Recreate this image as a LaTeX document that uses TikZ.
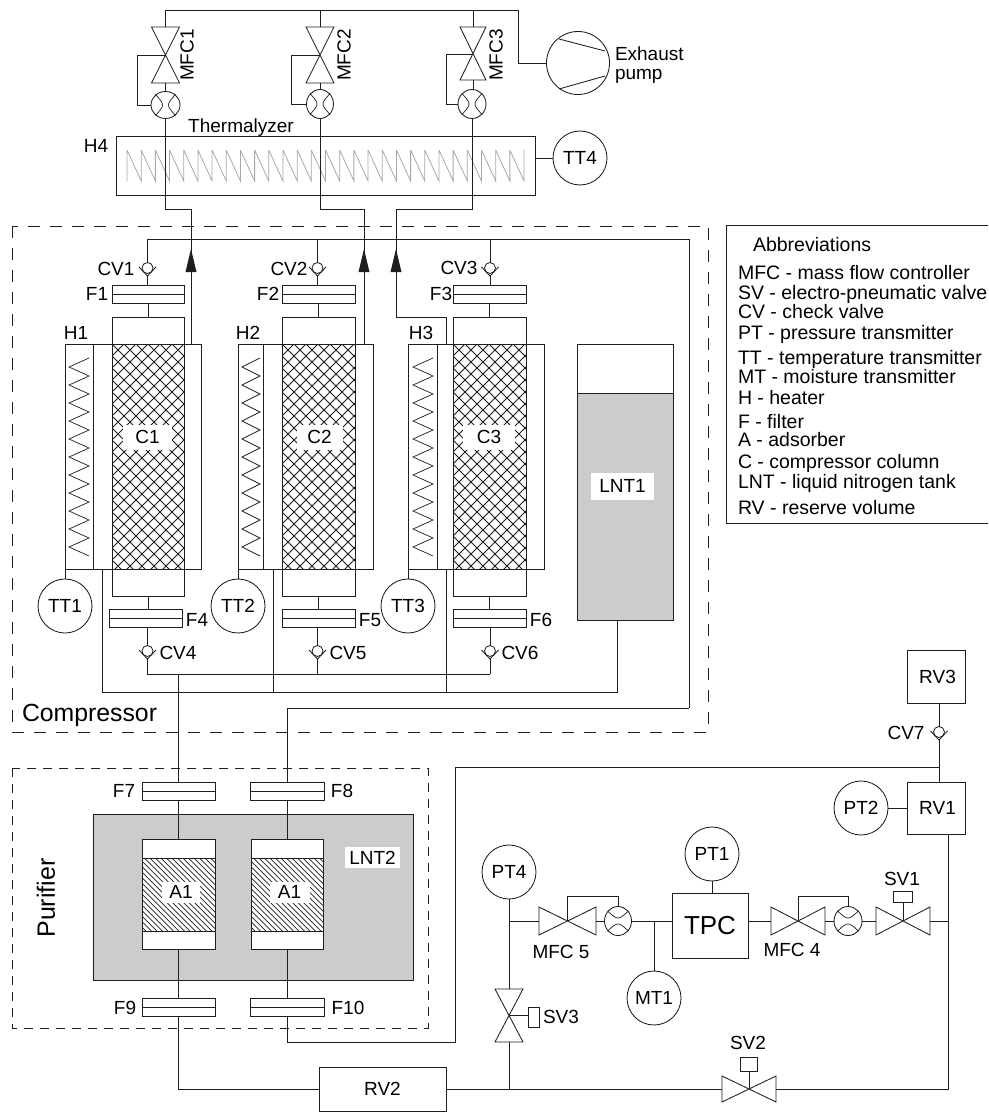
\documentclass[tikz,border=0pt]{standalone}
\usepackage{fontspec}
\setmainfont{Liberation Sans}
\usetikzlibrary{shapes.geometric,calc}
\definecolor{ink}{HTML}{1E1E1E}
\definecolor{tank}{HTML}{CCCCCC}
\definecolor{coilgrey}{HTML}{A8A8A8}
\newcommand{\fsz}[1]{\fontsize{#1}{#1}\selectfont}
\tikzset{
  pipe/.style={draw=ink,line width=0.85pt,line join=miter},
  box/.style={draw=ink,line width=0.85pt,rectangle,inner sep=0pt,outer sep=0pt},
  lab/.style={inner sep=0pt,outer sep=0pt,font=\fsz{19}},
  whitelab/.style={fill=white,inner sep=0pt,outer sep=0pt,font=\fsz{19}},
  inst/.style={draw=ink,line width=0.85pt,circle,minimum size=54pt,inner sep=0pt,outer sep=0pt,fill=white,font=\fsz{19}},
  flowbody/.style={draw=ink,line width=0.85pt,ellipse,inner sep=0pt,outer sep=0pt,fill=white},
  dashbox/.style={draw=ink,line width=0.85pt,dash pattern=on 12pt off 10pt},
  dashboxb/.style={draw=ink,line width=0.85pt,dash pattern=on 9pt off 7pt},
  abbr/.style={anchor=base west,inner sep=0pt,outer sep=0pt,font=\fsz{19.5}},
  coil/.style={draw=ink,line width=0.7pt},
  hatchline/.style={draw=ink,line width=0.9pt},
}
\newcommand{\rectn}[7][]{\node[box,minimum width={((#4)-(#2))*1pt},minimum height={((#5)-(#3))*1pt},#1] (#6) at ({((#2)+(#4))/2},{((#3)+(#5))/2}) {#7};}
\newcommand{\filtr}[4]{\rectn[fill=white]{#2}{#4-9}{#3}{#4+9}{#1}{}\draw[pipe] (#1.west) -- (#1.east);}
\newcommand{\vval}[5]{\coordinate (#1) at (#2,{(#3+#4)/2});\coordinate (#1-t) at (#2,#3);\coordinate (#1-b) at (#2,#4);
  \draw[pipe] (#2-#5,#3) -- (#2+#5,#3) -- (#2-#5,#4) -- (#2+#5,#4) -- cycle;}
\newcommand{\hval}[5]{\coordinate (#1) at ({(#2+#3)/2},#4);\coordinate (#1-l) at (#2,#4);\coordinate (#1-r) at (#3,#4);
  \draw[pipe] (#2,#4-#5) -- (#2,#4+#5) -- (#3,#4-#5) -- (#3,#4+#5) -- cycle;}
\newcommand{\chk}[3]{\node[draw=ink,line width=0.8pt,circle,minimum size=11pt,inner sep=0pt,outer sep=0pt,fill=white] (#1) at (#2,#3-1) {};
  \coordinate (#1-b) at (#2,#3+7);
  \draw[pipe] (#2-8.5,#3-2) -- (#1-b) -- (#2+8.5,#3-2);}
\newcommand{\flowm}[6]{\node[flowbody,minimum width={2*#4*1pt},minimum height={2*#5*1pt}] (#1) at (#2,#3) {};
  \begin{scope}[shift={(#2,#3)},rotate=#6]
    \draw[pipe,line width=0.7pt] (-10,-10.5) .. controls (-0.6,0) .. (-10,10.5);
    \draw[pipe,line width=0.7pt] (10,-10.5) .. controls (0.6,0) .. (10,10.5);
  \end{scope}}
\newcommand{\hatchcross}[4]{\begin{scope}
    \clip (#1,#2) rectangle (#3,#4);
    \foreach \kk in {-240,-228,...,84}{\draw[hatchline] (#1+\kk,#2) -- ++(240,240);}
    \foreach \kk in {0,12,...,324}{\draw[hatchline] (#1+\kk,#2) -- ++(-240,240);}
  \end{scope}}
\newcommand{\hatchdiag}[4]{\begin{scope}
    \clip (#1,#2) rectangle (#3,#4);
    \foreach \kk in {-80,-74.5,...,80}{\draw[hatchline,line width=0.7pt] (#1+\kk,#2) -- ++(90,90);}
  \end{scope}}
\newcommand{\heatz}[2]{\draw[coil] (#2,358) \foreach \ii in {0,...,10}{ -- (#1,358+9+18*\ii) -- (#2,358+18+18*\ii)};}
\newcommand{\uphead}[1]{\fill[ink] (#1,249) -- (#1+5.5,272) -- (#1-5.5,272) -- cycle;}
\begin{document}
\begin{tikzpicture}[x=1pt,y=-1pt]
\useasboundingbox (0,0) rectangle (988,1113);
\fill[white] (0,0) rectangle (988,1113);

% ---- dashed enclosures
\draw[dashbox] (12,226) rectangle (708,732);
\draw[dashboxb] (12,768) rectangle (428,1028);

% ---- Thermalyzer
\draw[draw=coilgrey,line width=0.8pt] (127,150) -- (127,181)
  \foreach \ii in {0,...,27}{ (127+14.18*\ii,150) -- (127+14.18+14.18*\ii,181) -- (127+14.18+14.18*\ii,150)};
\rectn{116}{136}{535}{195}{TH}{}
\node[lab] (thlab) at (241,128) {Thermalyzer};
\node[lab] (h4lab) at (96,146) {H4};
\node[inst] (TT4) at (580,158) {TT4};
\draw[pipe] (TH.east |- TT4.west) -- (TT4.west);

% ---- Exhaust pump
\node[flowbody,minimum width=63pt,minimum height=63pt] (pump) at (578,63) {};
\draw[pipe] (559,39) -- (605,51);
\draw[pipe] (559,89) -- (605,76);
\node[lab,anchor=west] (exh1) at (615,54) {Exhaust};
\node[lab,anchor=west] (exh2) at (615,76) {pump};

% ---- MFC 1-3
\vval{V1}{165.5}{27}{83}{14}
\vval{V2}{320}{27}{83}{14}
\vval{V3}{473}{27}{80}{13}
\flowm{FM1}{165.5}{105}{14.5}{13.5}{0}
\flowm{FM2}{320}{104}{13.5}{14.5}{0}
\flowm{FM3}{472}{104}{14}{14.5}{0}
\node[lab,rotate=90] (mfc1lab) at (187,55) {MFC1};
\node[lab,rotate=90] (mfc2lab) at (344,55) {MFC2};
\node[lab,rotate=90] (mfc3lab) at (496,55) {MFC3};
\coordinate (busT) at (518,10);
\draw[pipe] (V1-t) |- (busT) -- (busT |- pump.west) -- (pump.west);
\draw[pipe] (V2-t) -- (V2-t |- busT);
\draw[pipe] (V3-t) -- (V3-t |- busT);
\foreach \n in {1,2,3}{\draw[pipe] (V\n-b) -- (V\n-b |- FM\n.north);}
\coordinate (by1) at (137,55);
\coordinate (by2) at (291.5,55);
\coordinate (by3) at (446,54);
\draw[pipe] (V1) -- (by1) |- (FM1.west);
\draw[pipe] (V2) -- (by2) |- (FM2.west);
\draw[pipe] (V3 |- by3) -- (by3) |- (FM3.west);

% ---- Compressor jackets
\foreach \xa/\xb/\nm in {65/201/J1,238/373/J2,408/544/J3}{
  \rectn{\xa}{344}{\xb}{569}{\nm}{}
}
\draw[pipe] (93,344) -- (93,569) (263,344) -- (263,569) (437,344) -- (437,569);
\heatz{69}{89}
\heatz{242}{260}
\heatz{413}{433}
\node[lab] (h1lab) at (76,333) {H1};
\node[lab] (h2lab) at (248,333) {H2};
\node[lab] (h3lab) at (421,333) {H3};

% ---- Columns
\hatchcross{112}{344}{184}{569}
\hatchcross{282}{344}{355}{569}
\hatchcross{453}{344}{526}{569}
\rectn{112}{344}{184}{569}{C1p}{}
\rectn{282}{344}{355}{569}{C2p}{}
\rectn{453}{344}{526}{569}{C3p}{}
\rectn{112}{317}{184}{344}{C1t}{}
\rectn{282}{317}{355}{344}{C2t}{}
\rectn{453}{317}{526}{344}{C3t}{}
\rectn{112}{569}{184}{596}{C1b}{}
\rectn{282}{569}{355}{596}{C2b}{}
\rectn{453}{569}{526}{596}{C3b}{}
\node[whitelab,minimum width=49pt,minimum height=25pt] (C1) at (147.5,437) {C1};
\node[whitelab,minimum width=46pt,minimum height=25pt] (C2) at (319.5,437) {C2};
\node[whitelab,minimum width=52pt,minimum height=25pt] (C3) at (489,437) {C3};

% ---- Filters
\filtr{F1}{112}{184}{294}
\filtr{F2}{282}{355}{294}
\filtr{F3}{453}{526}{294}
\filtr{F4}{109}{182}{618.5}
\filtr{F5}{282}{355}{618.5}
\filtr{F6}{453}{526}{618.5}
\node[lab] (f1lab) at (97,294) {F1};
\node[lab] (f2lab) at (268,294) {F2};
\node[lab] (f3lab) at (441,294) {F3};
\node[lab] (f4lab) at (197,620) {F4};
\node[lab] (f5lab) at (370,620) {F5};
\node[lab] (f6lab) at (541,620) {F6};

% ---- Check valves
\chk{CV1}{147.5}{269}
\chk{CV2}{317.5}{269}
\chk{CV3}{490}{269}
\chk{CV4}{147.5}{652}
\chk{CV5}{317.5}{652}
\chk{CV6}{490}{652}
\node[lab] (cv1lab) at (116,269) {CV1};
\node[lab] (cv2lab) at (289,269) {CV2};
\node[lab] (cv3lab) at (459,268) {CV3};
\node[lab] (cv4lab) at (178,653) {CV4};
\node[lab] (cv5lab) at (348,653) {CV5};
\node[lab] (cv6lab) at (520,653) {CV6};
\foreach \a in {1,2,3}{
  \draw[pipe] (CV\a-b) -- (CV\a-b |- F\a.north);
  \draw[pipe] (C\a t.north |- F\a.south) -- (C\a t.north);
}
\foreach \a/\c in {4/C1b,5/C2b,6/C3b}{
  \draw[pipe] (\c.south) -- (\c.south |- F\a.north);
  \draw[pipe] (CV\a.north |- F\a.south) -- (CV\a.north);
}

% ---- TT1-3
\node[inst] (TT1) at (65,606) {TT1};
\node[inst] (TT2) at (238,606) {TT2};
\node[inst] (TT3) at (408,606) {TT3};
\draw[pipe] (J1.south west) -- (TT1.north);
\draw[pipe] (J2.south west) -- (TT2.north);
\draw[pipe] (J3.south west) -- (TT3.north);

% ---- LNT1
\rectn{577}{344}{673}{393}{LNTa}{}
\rectn[fill=tank]{577}{393}{673}{620}{LNT1b}{}
\node[whitelab,minimum width=63pt,minimum height=27pt] (LNT1) at (622.5,486) {LNT1};

% ---- Pipes thermalyzer to compressor
\coordinate (pj1) at (191,209);
\coordinate (pj2) at (364,209);
\coordinate (pj3) at (396,209);
\coordinate (pj3b) at (396,317);
\coordinate (pj3c) at (446,317);
\draw[pipe] (FM1.south) |- (pj1) -- (pj1 |- J1.north);
\draw[pipe] (FM2.south) |- (pj2) -- (pj2 |- J2.north);
\draw[pipe] (FM3.south) |- (pj3) -- (pj3b) -- (pj3c) -- (pj3c |- J3.north);
\uphead{191}
\uphead{364}
\uphead{396}

% ---- Compressor loops
\coordinate (loopA) at (689,708);
\coordinate (loopB) at (689,239);
\coordinate (busA) at (490,674);
\coordinate (busX) at (179.5,674);
\coordinate (og1) at (102,692);
\coordinate (og2) at (273,692);
\coordinate (og3) at (446,692);
\coordinate (lq) at (617,620);
\draw[pipe] (CV1.north |- loopB) -- (loopB) -- (loopA);
\draw[pipe] (CV1.north) -- (CV1.north |- loopB);
\draw[pipe] (CV2.north) -- (CV2.north |- loopB);
\draw[pipe] (CV3.north) -- (CV3.north |- loopB);
\draw[pipe] (CV4-b) |- (busA);
\draw[pipe] (CV5-b) -- (CV5-b |- busA);
\draw[pipe] (CV6-b) -- (CV6-b |- busA);
\draw[pipe] (lq) |- (og1) -- (og1 |- J1.south);
\draw[pipe] (og2) -- (og2 |- J2.south);
\draw[pipe] (og3) -- (og3 |- J3.south);
\node[lab,anchor=west,font=\fsz{24.8}] (complab) at (22,715) {Compressor};

% ---- Purifier
\rectn[fill=tank]{93}{814}{413}{980}{LNTbig}{}
\node[whitelab,minimum width=55pt,minimum height=21pt] (LNT2) at (372.5,857.5) {LNT2};
\rectn[fill=white]{142}{839}{215}{858}{A1t}{}
\rectn[fill=white]{251}{839}{323}{858}{A2t}{}
\rectn[fill=white]{142}{931}{215}{949}{A1b}{}
\rectn[fill=white]{251}{931}{323}{949}{A2b}{}
\fill[white] (142,858) rectangle (215,931);
\fill[white] (251,858) rectangle (323,931);
\hatchdiag{142}{858}{215}{931}
\hatchdiag{251}{858}{323}{931}
\rectn{142}{858}{215}{931}{A1p}{}
\rectn{251}{858}{323}{931}{A2p}{}
\node[whitelab,minimum width=38pt,minimum height=21pt] (A1) at (181,892) {A1};
\node[whitelab,minimum width=40pt,minimum height=21pt] (A2) at (289.5,892) {A1};
\filtr{F7}{142}{215}{791}
\filtr{F8}{250}{324}{791}
\filtr{F9}{142}{215}{1007.5}
\filtr{F10}{250}{324}{1007.5}
\node[lab] (f7lab) at (124,791) {F7};
\node[lab] (f8lab) at (342,791) {F8};
\node[lab] (f9lab) at (125,1008) {F9};
\node[lab] (f10lab) at (348,1008) {F10};
\node[lab,rotate=90,font=\fsz{25}] (purlab) at (46,898) {Purifier};
\draw[pipe] (F7.north) -- (F7.north |- busX);
\draw[pipe] (F8.north) |- (loopA);
\draw[pipe] (F7.south) -- (F7.south |- A1t.north) (A1b.south) -- (A1b.south |- F9.north);
\draw[pipe] (F8.south) -- (F8.south |- A2t.north) (A2b.south) -- (A2b.south |- F10.north);

% ---- Right hand circuit
\rectn{907}{650}{965}{703}{RV3}{\fsz{19}\hspace{3pt}RV3}
\rectn{907}{782}{965}{834}{RV1}{\fsz{19}\hspace{3pt}RV1}
\rectn{319}{1067}{446}{1111}{RV2}{\fsz{19}RV2}
\chk{CV7}{939}{733}
\node[lab] (cv7lab) at (906,733) {CV7};
\node[inst] (PT2) at (861,808) {PT2};
\draw[pipe] (PT2.east) -- (RV1.west |- PT2.east);
\draw[pipe] (CV7.north) -- (CV7.north |- RV3.south);
\draw[pipe] (CV7-b) -- (CV7-b |- RV1.north);
\coordinate (o1) at (455,1042);
\coordinate (o2) at (455,767);
\draw[pipe] (F10.south) |- (o1) -- (o2) -- (CV7-b |- o2);
\draw[pipe] (F9.south) |- (RV2.west);

\node[inst] (PT4) at (509,872) {PT4};
\node[inst] (PT1) at (712,854) {PT1};
\node[inst] (MT1) at (654,998) {MT1};
\rectn{672}{893}{748}{958}{TPC}{\fsz{26}TPC}
\draw[pipe] (PT1.south) -- (PT1.south |- TPC.north);

\hval{V5}{539}{596}{921}{14}
\hval{V4}{771}{825}{921}{14}
\hval{SV1}{876}{930}{921}{14}
\hval{SV2}{722}{776}{1089}{13}
\vval{SV3}{509}{989}{1042}{14}
\flowm{FM5}{618}{921}{13.5}{14.5}{90}
\flowm{FM4}{848}{921}{14}{14.5}{90}
\node[lab] (mfc5lab) at (561,952) {MFC 5};
\node[lab] (mfc4lab) at (792,950) {MFC 4};
\node[lab] (sv1lab) at (902,879) {SV1};
\node[lab] (sv2lab) at (748,1043) {SV2};
\node[lab] (sv3lab) at (561,1017) {SV3};

\rectn{893}{891}{912}{902}{A-SV1}{}
\rectn{740}{1057}{757}{1071}{A-SV2}{}
\rectn{528}{1007}{539}{1027}{A-SV3}{}
\draw[pipe] (SV1) -- (SV1 |- A-SV1.south);
\draw[pipe] (SV2) -- (SV2 |- A-SV2.south);
\draw[pipe] (SV3) -- (SV3 -| A-SV3.west);

\coordinate (rr) at (948,1089);
\coordinate (jn4) at (509,921);
\coordinate (jn5) at (654,921);
\coordinate (byh) at (0,896);
\draw[pipe] (PT4.south) -- (SV3-t);
\draw[pipe] (jn4) -- (V5-l);
\draw[pipe] (V5) -- (V5 |- byh) -| (FM5.north);
\draw[pipe] (V5-r) -- (FM5.west);
\draw[pipe] (FM5.east) -- (TPC.west |- FM5.east);
\draw[pipe] (MT1.north) -- (jn5);
\draw[pipe] (TPC.east |- V4-l) -- (V4-l);
\draw[pipe] (V4) -- (V4 |- byh) -| (FM4.north);
\draw[pipe] (V4-r) -- (FM4.west);
\draw[pipe] (FM4.east) -- (SV1-l);
\draw[pipe] (SV1-r) -- (rr |- SV1-r);
\draw[pipe] (rr |- RV1.south) -- (rr) -- (SV2-r);
\draw[pipe] (SV2-l) -- (RV2.east);
\draw[pipe] (SV3-b) -- (SV3-b |- RV2.east);

% ---- Abbreviations
\draw[pipe] (988,225) -- (726,225) -- (726,523) -- (988,523);
\node[abbr] (ab0) at (753,251) {Abbreviations};
\node[abbr] (ab1) at (738,279) {MFC - mass flow controller};
\node[abbr] (ab2) at (738,299) {SV - electro-pneumatic valve};
\node[abbr] (ab3) at (738,318) {CV - check valve};
\node[abbr] (ab4) at (738,339) {PT - pressure transmitter};
\node[abbr] (ab5) at (738,364) {TT - temperature transmitter};
\node[abbr] (ab6) at (738,383) {MT - moisture transmitter};
\node[abbr] (ab7) at (738,404) {H - heater};
\node[abbr] (ab8) at (738,428) {F - filter};
\node[abbr] (ab9) at (738,446) {A - adsorber};
\node[abbr] (ab10) at (738,468) {C - compressor column};
\node[abbr] (ab11) at (738,488) {LNT - liquid nitrogen tank};
\node[abbr] (ab12) at (738,514) {RV - reserve volume};
\end{tikzpicture}
\end{document}
